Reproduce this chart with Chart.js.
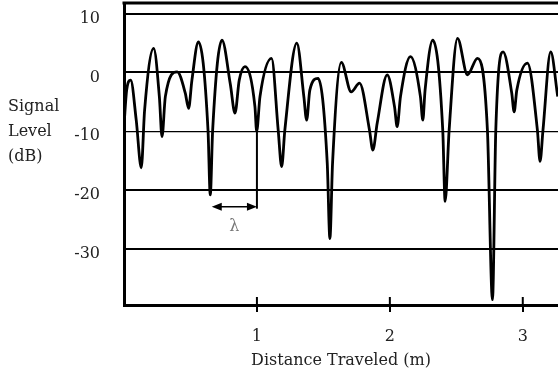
<!DOCTYPE html>
<html>
<head>
<meta charset="utf-8">
<script src="https://cdn.jsdelivr.net/npm/chart.js@4"></script>
<style>
	body { margin: 0; background: #fff; }
</style>
</head>
<body>
<canvas id="fadeChart" width="558" height="375"></canvas>
<script>
// data block
const distance = [
	0, 0.02, 0.05, 0.092, 0.13, 0.155, 0.223, 0.266, 0.286, 0.311, 0.40, 0.461, 0.486, 0.511, 0.56,
	0.632, 0.649, 0.667, 0.737, 0.80, 0.835, 0.867, 0.91, 0.985, 0.998, 1.023, 1.11, 1.16, 1.186, 1.21,
	1.30, 1.353, 1.374, 1.398, 1.46, 1.529, 1.549, 1.569, 1.635, 1.709, 1.772, 1.847, 1.872, 1.905, 1.98,
	2.035, 2.055, 2.08, 2.155, 2.23, 2.248, 2.265, 2.323, 2.398, 2.416, 2.446, 2.509, 2.584, 2.659,
	2.734, 2.772, 2.797, 2.852, 2.917, 2.935, 2.955, 3.035, 3.11, 3.13, 3.152, 3.21, 3.263,
];
const signalLevel = [
	-9, -3, -1.3, -8.1, -16.2, -6.4, 4.1, -4.1, -10.9, -4.1, 0.1, -3.5, -6.1, -1.3, 5.2,
	-9.8, -20.8, -9.8, 5.5, -2, -6.9, -1.3, 1.0, -5.8, -10.0, -4.1, 2.4, -9.8, -16, -9.8,
	5.0, -4.1, -8.1, -3.0, -1.0, -15.4, -28.2, -15.4, 1.7, -3.3, -1.8, -9.8, -13.2, -8.6, -0.4,
	-5.8, -9.2, -4.1, 2.7, -4.1, -8.1, -3.0, 5.5, -9.8, -21.9, -9.8, 5.8, -0.4, 2.4,
	-9.8, -38.6, -9.8, 3.5, -3.5, -6.7, -3.0, 1.6, -9.8, -15.1, -9.8, 3.5, -4.1,
];
const xTicks = [1, 2, 3];
const yTicks = [10, 0, -10, -20, -30];
const yTitleLines = ['Signal', 'Level', '(dB)'];

// lambda marker (metres, dB)
const lambdaFrom = 0.66;
const lambdaTo = 1.0;
const lambdaLevel = -22.8;
const lambdaNull = -10;
const lambdaLabel = 'λ';

Chart.defaults.font.family = "'DejaVu Serif', 'Liberation Serif', serif";
Chart.defaults.color = '#222';

// extra drawing: frame top, inner tick marks, lambda arrow, y title
const extras = {
	id: 'extras',
	afterDraw(chart) {
		const { ctx, chartArea } = chart;
		const xs = chart.scales.x;
		const ys = chart.scales.y;
		ctx.save();
		ctx.strokeStyle = '#000';
		ctx.fillStyle = '#000';

		// top frame line
		ctx.lineWidth = 3;
		ctx.beginPath();
		ctx.moveTo(chartArea.left - 1.5, chartArea.top);
		ctx.lineTo(chartArea.right, chartArea.top);
		ctx.stroke();

		// tick marks inside the plot
		ctx.lineWidth = 2;
		xTicks.forEach((t) => {
			const px = xs.getPixelForValue(t);
			ctx.beginPath();
			ctx.moveTo(px, chartArea.bottom);
			ctx.lineTo(px, chartArea.bottom - 8);
			ctx.stroke();
		});

		// lambda arrow
		const ax1 = xs.getPixelForValue(lambdaFrom);
		const ax2 = xs.getPixelForValue(lambdaTo);
		const ay = ys.getPixelForValue(lambdaLevel);
		ctx.lineWidth = 1.5;
		ctx.beginPath();
		ctx.moveTo(ax1 + 6, ay);
		ctx.lineTo(ax2 - 6, ay);
		ctx.stroke();
		ctx.lineWidth = 2;
		ctx.beginPath();
		ctx.moveTo(ax2, ys.getPixelForValue(lambdaNull));
		ctx.lineTo(ax2, ay + 2);
		ctx.stroke();
		[[ax1, 1], [ax2, -1]].forEach(([px, dir]) => {
			ctx.beginPath();
			ctx.moveTo(px, ay);
			ctx.lineTo(px + dir * 10, ay - 4);
			ctx.lineTo(px + dir * 10, ay + 4);
			ctx.closePath();
			ctx.fill();
		});
		ctx.fillStyle = '#777';
		ctx.font = "16px 'DejaVu Serif'";
		ctx.textAlign = 'center';
		ctx.textBaseline = 'middle';
		ctx.fillText(lambdaLabel, xs.getPixelForValue((lambdaFrom + lambdaTo) / 2), ay + 20);

		// y axis title, horizontal, three lines
		ctx.fillStyle = '#222';
		ctx.font = "16px 'DejaVu Serif'";
		ctx.textAlign = 'left';
		const mid = ys.getPixelForValue(-10) + 1;
		yTitleLines.forEach((line, i) => {
			ctx.fillText(line, 8, mid + (i - 1) * 25);
		});
		ctx.restore();
	},
};

// config block
const config = {
	type: 'line',
	data: {
		datasets: [
			{
				data: distance.map((d, i) => ({ x: d, y: signalLevel[i] })),
				borderColor: '#000',
				borderWidth: 2.8,
				pointRadius: 0,
				cubicInterpolationMode: 'monotone',
				fill: false,
			},
		],
	},
	options: {
		responsive: false,
		animation: false,
		devicePixelRatio: 1,
		layout: { autoPadding: false, padding: { top: 3, right: 0, left: 0, bottom: 0 } },
		plugins: {
			legend: { display: false },
			tooltip: { enabled: false },
		},
		scales: {
			x: {
				type: 'linear',
				min: 0,
				max: 3.265,
				afterBuildTicks: (axis) => {
					axis.ticks = xTicks.map((v) => ({ value: v }));
				},
				afterFit: (scale) => {
					scale.height = 70;
					scale.paddingLeft = 0;
					scale.paddingRight = 0;
				},
				grid: {
					drawOnChartArea: false,
					color: '#000',
					lineWidth: 2,
					tickLength: 7,
				},
				border: { color: '#000', width: 3 },
				ticks: {
					padding: 15,
					font: { size: 16 },
					color: '#222',
				},
				title: {
					display: true,
					text: 'Distance Traveled (m)',
					font: { size: 16 },
					color: '#222',
					padding: { top: 2, bottom: 5 },
				},
			},
			y: {
				min: -39.5,
				max: 11.8,
				afterBuildTicks: (axis) => {
					axis.ticks = yTicks.map((v) => ({ value: v }));
				},
				afterFit: (scale) => {
					scale.width = 124;
					scale.paddingTop = 0;
					scale.paddingBottom = 0;
				},
				grid: {
					color: '#000',
					lineWidth: (c) => (c.tick && c.tick.value === -10 ? 1.2 : 2),
					drawTicks: false,
				},
				border: { color: '#000', width: 3 },
				ticks: {
					padding: 24,
					labelOffset: 5,
					font: { size: 16 },
					color: '#222',
				},
			},
		},
	},
	plugins: [extras],
};

// render block
const fadeChart = new Chart(document.getElementById('fadeChart'), config);
</script>
</body>
</html>
